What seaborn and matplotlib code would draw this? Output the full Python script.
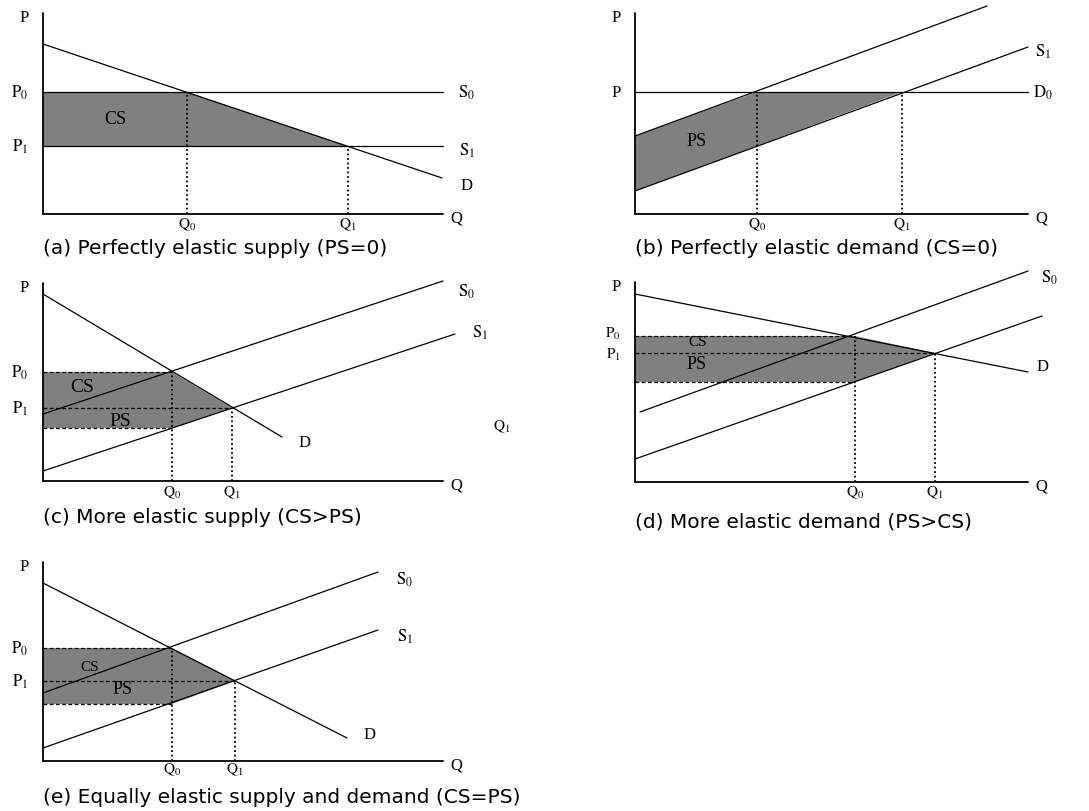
# Consumer / producer surplus under different supply-demand elasticities (5 panels)

import matplotlib.pyplot as plt
import seaborn as sns

sns.set_theme(style="white")
plt.rcParams["font.family"] = ["Liberation Serif", "DejaVu Serif"]
plt.rcParams["mathtext.fontset"] = "stix"
plt.rcParams["text.color"] = "black"

FILL = "#808080"

# ---- panel data (Q to the right, P upward; units ~ pixels from origin) ----
# axis lengths
a_qmax, a_pmax = 400, 201
b_qmax, b_pmax = 393, 201
c_qmax, c_pmax = 400, 198
d_qmax, d_pmax = 393, 200
e_qmax, e_pmax = 400, 199

# (a) perfectly elastic supply
a_demand_q, a_demand_p = [0, 399], [170, 36]
a_s0_p, a_s1_p = 122, 68
a_q0, a_q1 = 144, 305

# (b) perfectly elastic demand
b_d0_p = 122
b_s0_q, b_s0_p = [0, 352], [78, 208]
b_s1_q, b_s1_p = [0, 393], [23, 167]
b_q0, b_q1 = 122, 267

# (c) more elastic supply
c_demand_q, c_demand_p = [0, 239], [187, 44]
c_s0_q, c_s0_p = [0, 400], [67, 200]
c_s1_q, c_s1_p = [0, 412], [10, 147]
c_q0, c_q1 = 129, 189
c_p0, c_p1, c_floor = 109, 73, 53

# (d) more elastic demand
d_demand_q, d_demand_p = [0, 393], [188, 110]
d_s0_q, d_s0_p = [5, 393], [70, 211]
d_s1_q, d_s1_p = [0, 407], [23, 166]
d_q0, d_q1 = 220, 300
d_p0, d_p1, d_floor = 146, 129, 100

# (e) equally elastic
e_demand_q, e_demand_p = [0, 304], [178, 23]
e_s0_q, e_s0_p = [0, 335], [68, 189]
e_s1_q, e_s1_p = [0, 335], [13, 131]
e_q0, e_q1 = 129, 192
e_p0, e_p1, e_floor = 113, 80, 57

captions = [
    "(a) Perfectly elastic supply (PS=0)",
    "(b) Perfectly elastic demand (CS=0)",
    "(c) More elastic supply (CS>PS)",
    "(d) More elastic demand (PS>CS)",
    "(e) Equally elastic supply and demand (CS=PS)",
]

W, H = 1089, 812
fig = plt.figure(figsize=(W / 100, H / 100), dpi=100)

LEFT, RIGHT, BOTTOM, TOP = -45, 480, -50, 215


def make_ax(x0, y0):
    # origin of the diagram at pixel (x0, y0) of the image
    rect = [(x0 + LEFT) / W, (H - y0 + BOTTOM) / H, (RIGHT - LEFT) / W, (TOP - BOTTOM) / H]
    ax = fig.add_axes(rect)
    ax.set_xlim(LEFT, RIGHT)
    ax.set_ylim(BOTTOM, TOP)
    ax.axis("off")
    return ax


def curve(ax, q, p):
    sns.lineplot(x=q, y=p, ax=ax, color="black", lw=0.9, sort=False, estimator=None)


def axes_lines(ax, qmax, pmax):
    ax.plot([0, 0], [0, pmax], color="black", lw=1.3)
    ax.plot([0, qmax], [0, 0], color="black", lw=1.3)
    ax.text(-19, pmax - 4, "P", fontsize=12, ha="center", va="center")
    ax.text(qmax + 13, -4, "Q", fontsize=12, ha="center", va="center")


def lab(ax, x, y, s, size=12):
    ax.text(x, y, s, fontsize=size, ha="center", va="center")


def caption(ax, s, y=-34):
    ax.text(0, y, s, fontsize=14.5, ha="left", va="center",
            family=["DejaVu Sans"])


def surplus_box(ax, q0, q1, p0, p1, floor):
    poly_q = [0, q0, q1, q0, 0]
    poly_p = [p0, p0, p1, floor, floor]
    ax.fill(poly_q, poly_p, color=FILL, lw=0)
    ax.plot([0, q0], [p0, p0], color="black", lw=0.9, ls=(0, (3, 2)))
    ax.plot([0, q1], [p1, p1], color="black", lw=0.9, ls=(0, (3, 2)))
    ax.plot([0, q0], [floor, floor], color="black", lw=0.9, ls=(0, (3, 2)))
    ax.plot([q0, q0], [0, p0], color="black", lw=1.3, ls=(0, (1, 1.5)))
    ax.plot([q1, q1], [0, p1], color="black", lw=1.3, ls=(0, (1, 1.5)))


# ---------------- (a) ----------------
ax = make_ax(43, 215)
ax.fill([0, a_q0, a_q1, 0], [a_s0_p, a_s0_p, a_s1_p, a_s1_p], color=FILL, lw=0)
curve(ax, a_demand_q, a_demand_p)
ax.plot([0, a_qmax], [a_s0_p, a_s0_p], color="black", lw=0.9)
ax.plot([0, a_qmax], [a_s1_p, a_s1_p], color="black", lw=0.9)
ax.plot([a_q0, a_q0], [0, a_s0_p], color="black", lw=1.3, ls=(0, (1, 1.5)))
ax.plot([a_q1, a_q1], [0, a_s1_p], color="black", lw=1.3, ls=(0, (1, 1.5)))
axes_lines(ax, a_qmax, a_pmax)
lab(ax, -23, a_s0_p, r"$\mathrm{P_0}$")
lab(ax, -23, a_s1_p, r"$\mathrm{P_1}$")
lab(ax, 424, a_s0_p, r"$\mathrm{S_0}$")
lab(ax, 424, a_s1_p - 4, r"$\mathrm{S_1}$")
lab(ax, 424, 29, "D")
lab(ax, a_q0, -10, r"$\mathrm{Q_0}$", 11)
lab(ax, a_q1, -10, r"$\mathrm{Q_1}$", 11)
lab(ax, 72, 95, "CS", 13)
caption(ax, captions[0])

# ---------------- (b) ----------------
ax = make_ax(635, 215)
ax.fill([0, b_q0, b_q1, 0], [b_s0_p[0], b_d0_p, b_d0_p, b_s1_p[0]], color=FILL, lw=0)
curve(ax, b_s0_q, b_s0_p)
curve(ax, b_s1_q, b_s1_p)
ax.plot([0, b_qmax], [b_d0_p, b_d0_p], color="black", lw=0.9)
ax.plot([b_q0, b_q0], [0, b_d0_p], color="black", lw=1.3, ls=(0, (1, 1.5)))
ax.plot([b_q1, b_q1], [0, b_d0_p], color="black", lw=1.3, ls=(0, (1, 1.5)))
axes_lines(ax, b_qmax, b_pmax)
lab(ax, -19, b_d0_p, "P")
lab(ax, 408, b_d0_p, r"$\mathrm{D_0}$")
lab(ax, 408, 163, r"$\mathrm{S_1}$")
lab(ax, b_q0, -10, r"$\mathrm{Q_0}$", 11)
lab(ax, b_q1, -10, r"$\mathrm{Q_1}$", 11)
lab(ax, 62, 73, "PS", 13)
caption(ax, captions[1])

# ---------------- (c) ----------------
ax = make_ax(43, 482)
surplus_box(ax, c_q0, c_q1, c_p0, c_p1, c_floor)
curve(ax, c_demand_q, c_demand_p)
curve(ax, c_s0_q, c_s0_p)
curve(ax, c_s1_q, c_s1_p)
axes_lines(ax, c_qmax, c_pmax)
lab(ax, -23, c_p0, r"$\mathrm{P_0}$")
lab(ax, -23, c_p1, r"$\mathrm{P_1}$")
lab(ax, 424, 190, r"$\mathrm{S_0}$")
lab(ax, 437, 149, r"$\mathrm{S_1}$")
lab(ax, 262, 39, "D")
lab(ax, 459, 55, r"$\mathrm{Q_1}$", 11)
lab(ax, c_q0, -11, r"$\mathrm{Q_0}$", 11)
lab(ax, c_q1, -11, r"$\mathrm{Q_1}$", 11)
lab(ax, 39, 94, "CS", 14)
lab(ax, 77, 60, "PS", 14)
caption(ax, captions[2], -36)

# ---------------- (d) ----------------
ax = make_ax(635, 483)
surplus_box(ax, d_q0, d_q1, d_p0, d_p1, d_floor)
curve(ax, d_demand_q, d_demand_p)
curve(ax, d_s0_q, d_s0_p)
curve(ax, d_s1_q, d_s1_p)
axes_lines(ax, d_qmax, d_pmax)
lab(ax, -22, d_p0 + 3, r"$\mathrm{P_0}$", 11)
lab(ax, -22, d_p1 - 1, r"$\mathrm{P_1}$", 11)
lab(ax, 415, 205, r"$\mathrm{S_0}$")
lab(ax, 408, 116, "D")
lab(ax, d_q0, -10, r"$\mathrm{Q_0}$", 11)
lab(ax, d_q1, -10, r"$\mathrm{Q_1}$", 11)
lab(ax, 63, 140, "CS", 11)
lab(ax, 62, 118, "PS", 13)
caption(ax, captions[3], -39)

# ---------------- (e) ----------------
ax = make_ax(43, 762)
surplus_box(ax, e_q0, e_q1, e_p0, e_p1, e_floor)
curve(ax, e_demand_q, e_demand_p)
curve(ax, e_s0_q, e_s0_p)
curve(ax, e_s1_q, e_s1_p)
axes_lines(ax, e_qmax, e_pmax)
lab(ax, -23, e_p0, r"$\mathrm{P_0}$")
lab(ax, -23, e_p1, r"$\mathrm{P_1}$")
lab(ax, 362, 182, r"$\mathrm{S_0}$")
lab(ax, 362, 125, r"$\mathrm{S_1}$")
lab(ax, 327, 27, "D")
lab(ax, e_q0, -8, r"$\mathrm{Q_0}$", 11)
lab(ax, e_q1, -8, r"$\mathrm{Q_1}$", 11)
lab(ax, 47, 94, "CS", 11)
lab(ax, 80, 72, "PS", 13)
caption(ax, captions[4], -36)

fig.savefig("out.png", dpi=100, facecolor="white")
